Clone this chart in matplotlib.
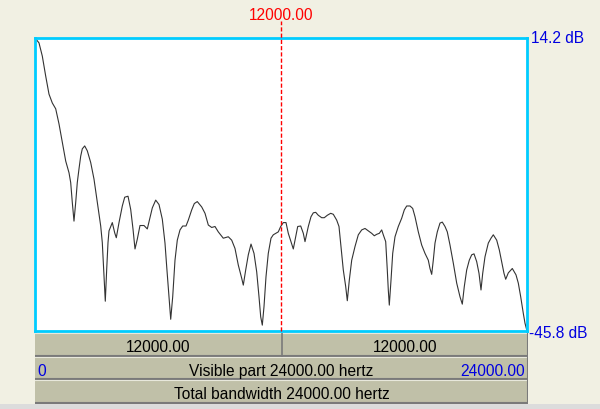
import matplotlib.pyplot as plt
from matplotlib.patches import Rectangle

# spectrum: frequency (Hz) and level (dB)
freq = [0, 195, 356, 522, 683, 844, 1010, 1171, 1332, 1498, 1659, 1741, 1820, 1902,
        1985, 2063, 2146, 2229, 2307, 2424, 2551, 2717, 2878, 3039, 3205, 3283,
        3366, 3429, 3498, 3561, 3610, 3771, 3888, 3966, 4098, 4259, 4376, 4537,
        4668, 4780, 4878, 4990, 5122, 5317, 5478, 5610, 5722, 5888, 6049, 6210,
        6341, 6424, 6537, 6620, 6717, 6829, 6941, 7073, 7205, 7366, 7478, 7644,
        7771, 7917, 8132, 8293, 8454, 8620, 8780, 8941, 9185, 9429, 9595, 9756,
        9917, 10083, 10161, 10278, 10405, 10537, 10683, 10815, 10927, 11010,
        11088, 11171, 11268, 11380, 11512, 11624, 11868, 11985, 12112, 12244,
        12356, 12600, 12717, 12815, 12961, 13088, 13171, 13332, 13463, 13576,
        13693, 13819, 13985, 14112, 14259, 14424, 14551, 14717, 14829, 14927,
        15039, 15156, 15234, 15332, 15449, 15610, 15771, 15937, 16098, 16259,
        16424, 16551, 16668, 16795, 16912, 16990, 17107, 17185, 17234, 17283,
        17366, 17449, 17561, 17722, 17888, 18015, 18132, 18293, 18424, 18537,
        18698, 18863, 19024, 19185, 19268, 19351, 19429, 19512, 19624, 19756,
        19868, 20000, 20112, 20244, 20405, 20571, 20732, 20844, 20941, 21058,
        21185, 21302, 21415, 21546, 21659, 21756, 21839, 21951, 22112, 22244,
        22356, 22522, 22649, 22766, 22878, 22961, 23088, 23283, 23463, 23576,
        23693, 23820, 23902, 24000]
level = [14.2, 13.2, 10.5, 6.4, 2.7, 0.9, -0.3, -3.4, -7.2, -11.0, -13.4, -15.4, -19.5, -23.3,
         -19.5, -15.4, -12.6, -10.0, -8.5, -7.9, -8.9, -11.3, -14.7, -19.5, -24.3, -27.7,
         -34.5, -39.7, -33.1, -27.7, -25.3, -23.6, -25.7, -26.7, -23.6, -20.2, -18.4, -18.2,
         -20.9, -24.9, -29.0, -27.0, -24.2, -24.2, -24.9, -22.6, -20.6, -19.0, -19.9, -22.9,
         -27.8, -32.6, -38.8, -43.4, -38.8, -31.3, -27.2, -25.1, -24.3, -24.3, -23.1, -21.0,
         -19.7, -19.3, -20.4, -21.7, -24.1, -24.6, -24.4, -25.5, -26.8, -26.5, -27.2, -28.9,
         -32.3, -35.0, -36.4, -33.3, -30.2, -28.0, -29.9, -33.7, -38.8, -42.9,
         -44.6, -40.8, -34.7, -29.9, -26.8, -26.1, -25.5, -24.4, -23.6, -23.6,
         -25.8, -29.0, -26.5, -24.4, -24.3, -25.8, -27.5, -24.4, -22.4, -21.6,
         -21.5, -22.1, -22.6, -22.6, -22.1, -21.7, -21.9, -23.1, -24.4, -28.5,
         -33.3, -36.7, -39.6, -35.4, -31.3, -28.5, -26.1, -25.1, -24.8, -25.3,
         -25.8, -26.3, -26.0, -25.8, -25.1, -26.1, -27.5, -33.3, -37.4, -40.5,
         -35.4, -29.9, -26.5, -24.4, -22.7, -21.0, -20.2, -20.2, -20.7, -22.4,
         -25.5, -28.2, -29.9, -31.3, -33.0, -34.2, -31.3, -27.8, -25.5, -23.7,
         -23.5, -24.4, -25.5, -28.2, -31.9, -36.0, -38.8, -40.3, -36.7, -33.3,
         -31.3, -30.2, -30.0, -31.6, -34.0, -37.4, -34.0, -30.6, -27.8, -26.8,
         -26.1, -27.2, -29.2, -31.6, -34.0, -35.2, -33.9, -33.0, -34.3, -36.0,
         -38.8, -42.2, -44.2, -45.8]

cursor = 12000.0
fmax = 24000.0
db_top = 14.2
db_bottom = -45.8

plt.rcParams['font.family'] = ['Liberation Sans', 'DejaVu Sans']
plt.rcParams['font.size'] = 11.2

W, H = 600, 409
bg = '#F1F0E3'
bar_col = '#C0C0A8'
blue = '#0000E0'

fig = plt.figure(figsize=(W / 100, H / 100), dpi=100, facecolor=bg)

# bottom grey strip of the window
fig.patches.append(Rectangle((0, 0), 1, 5 / H, transform=fig.transFigure,
                             facecolor='#DCDCDC', edgecolor='none'))

ax = fig.add_axes([35 / W, 1 - 331 / H, 492 / W, 293 / H])
ax.set_facecolor('white')
ax.plot(freq, level, color='#333333', lw=0.8)
ax.set_xlim(0, fmax)
ax.set_ylim(db_bottom, db_top)
ax.set_xticks([])
ax.set_yticks([])
for s in ax.spines.values():
    s.set_color('#00CCFF')
    s.set_linewidth(2)

# cursor
ax.axvline(cursor, ymin=0, ymax=1 + 17 / 293, color='red', lw=1,
           dashes=(3, 1.5), clip_on=False, zorder=5)
ax.annotate('%.2f' % cursor, xy=(cursor, 1), xycoords=('data', 'axes fraction'),
            xytext=(0, 17.5), textcoords='offset pixels', ha='center',
            va='baseline', color='red', annotation_clip=False)

ax.annotate('%.1f dB' % db_top, xy=(1, db_top), xycoords=('axes fraction', 'data'),
            xytext=(4, -5), textcoords='offset pixels', ha='left',
            va='baseline', color=blue, annotation_clip=False)
ax.annotate('%.1f dB' % db_bottom, xy=(1, db_bottom), xycoords=('axes fraction', 'data'),
            xytext=(2, -7), textcoords='offset pixels', ha='left',
            va='baseline', color=blue, annotation_clip=False)

# bars under the spectrum (y in pixel rows of the window)
bx = fig.add_axes([35 / W, 1 - 404 / H, 493 / W, 71 / H])
bx.set_xlim(0, fmax)
bx.set_ylim(404, 333)
bx.axis('off')

rows = [(333, 357), (357, 380), (380, 404)]
for top, bot in rows:
    bx.add_patch(Rectangle((0, top), fmax, bot - top, facecolor=bar_col,
                           edgecolor='none'))
    bx.axhline(bot - 1, color='#7A7A7A', lw=1.5)
    bx.axhline(top + 0.5, color='#E8E8DC', lw=0.8)
bx.axvline(fmax, color='#7A7A7A', lw=1.5)

# split of the first row at the cursor
bx.plot([cursor, cursor], [333, 356], color='#7A7A7A', lw=1.2)
bx.text(cursor / 2, 352, '%.2f' % cursor, ha='center', va='baseline')
bx.text((cursor + fmax) / 2, 352, '%.2f' % (fmax - cursor), ha='center', va='baseline')

bx.annotate('0', xy=(0, 376.5), xytext=(2, 0), textcoords='offset pixels',
            ha='left', va='baseline', color=blue)
bx.text(fmax / 2, 376.5, 'Visible part %.2f hertz' % fmax, ha='center', va='baseline')
bx.annotate('%.2f' % fmax, xy=(fmax, 376.5), xytext=(-3, 0), textcoords='offset pixels',
            ha='right', va='baseline', color=blue)

bx.text(fmax / 2, 399.5, 'Total bandwidth %.2f hertz' % fmax, ha='center', va='baseline')

fig.savefig('out.png', dpi=100, facecolor=bg)
